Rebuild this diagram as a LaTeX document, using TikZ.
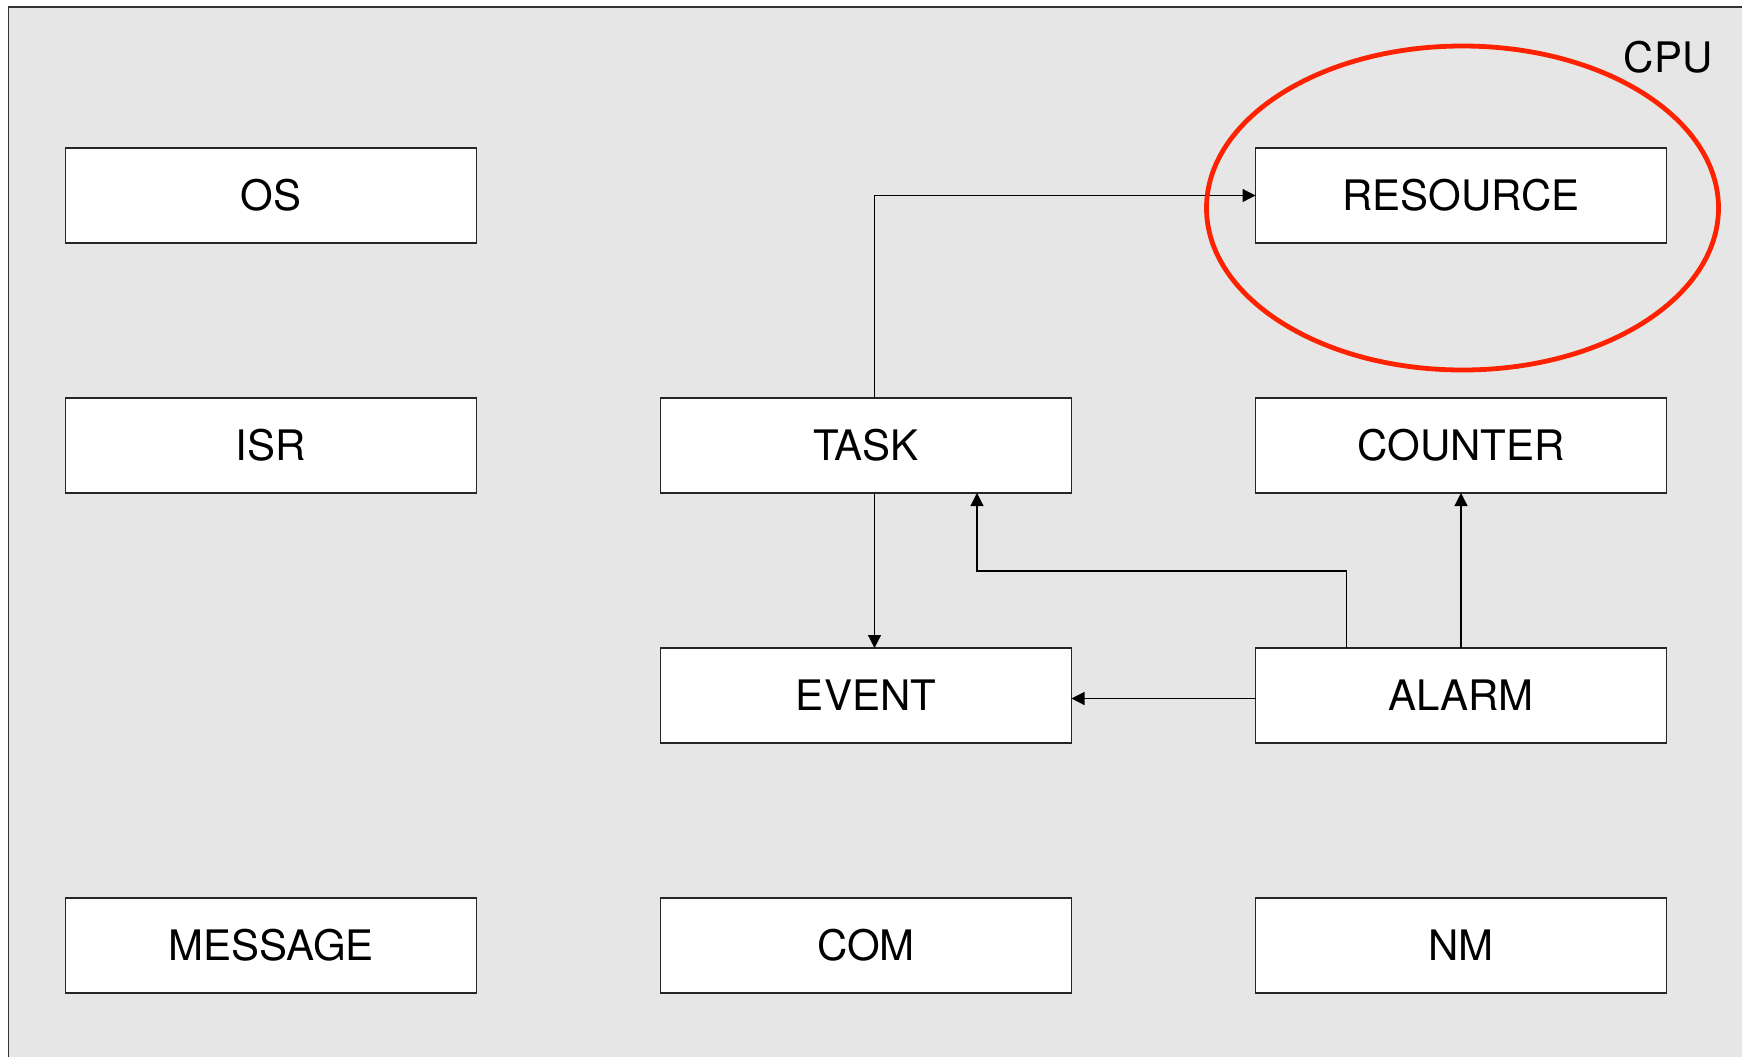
\documentclass[tikz,border=0pt]{standalone}
\usepackage{fontspec}
\setmainfont{TeX Gyre Heros}
\usepackage{xcolor}
\usepackage{tikz}
\usetikzlibrary{positioning,calc,arrows.meta}

\definecolor{cpugray}{HTML}{E6E6E6}
\definecolor{ringred}{RGB}{255,34,0}

\begin{document}
\begin{tikzpicture}[node distance=77.5pt and 92pt,
    box/.style={draw=black!85, line width=0.8pt, fill=white, minimum width=205.5pt, minimum height=47.5pt, outer sep=0pt, inner sep=0pt, font=\fontsize{21}{25}\selectfont},
    link/.style={draw=black, line width=0.6pt, -{Triangle[length=6.5pt, width=6.5pt]}}]
    \clip (0,0) rectangle (871pt,-528pt);
    \fill[white] (0,0) rectangle (871pt,-528pt);
    \draw[fill=cpugray, draw=black!80, line width=0.8pt] (4.2pt,-3.35pt) rectangle (890pt,-560pt);
    \node [font=\fontsize{21}{25}\selectfont] (cpu) at (834pt,-28.5pt) {CPU};

    \node [box, anchor=north west] (os) at (32.75pt,-74pt) {OS};
    \node [box, below=of os] (isr) {ISR};
    \node [box, right=of isr] (task) {TASK};
    \node [box, right=of task] (counter) {COUNTER};
    \node [box, above=of counter] (resource) {RESOURCE};
    \node [box, below=of task] (event) {EVENT};
    \node [box, below=of counter] (alarm) {ALARM};
    \node [box, below=202.5pt of isr] (message) {MESSAGE};
    \node [box, right=of message] (com) {COM};
    \node [box, right=of com] (nm) {NM};

    \draw [link] ([xshift=4.25pt]task.north) |- (resource.west);
    \draw [link] ([xshift=4.25pt]task.south) -- ([xshift=4.25pt]event.north);
    \draw [link] ([xshift=-57.25pt]alarm.north) -- ++(0,38.5pt) -| ([xshift=55.5pt]task.south);
    \draw [link] (alarm.north) -- (counter.south);
    \draw [link] ([yshift=-1.5pt]alarm.west) -- ([yshift=-1.5pt]event.east);

    \draw [ringred, line width=2.4pt] ([xshift=0.75pt, yshift=-6.25pt]resource.center) ellipse [x radius=128pt, y radius=81pt];
\end{tikzpicture}
\end{document}
